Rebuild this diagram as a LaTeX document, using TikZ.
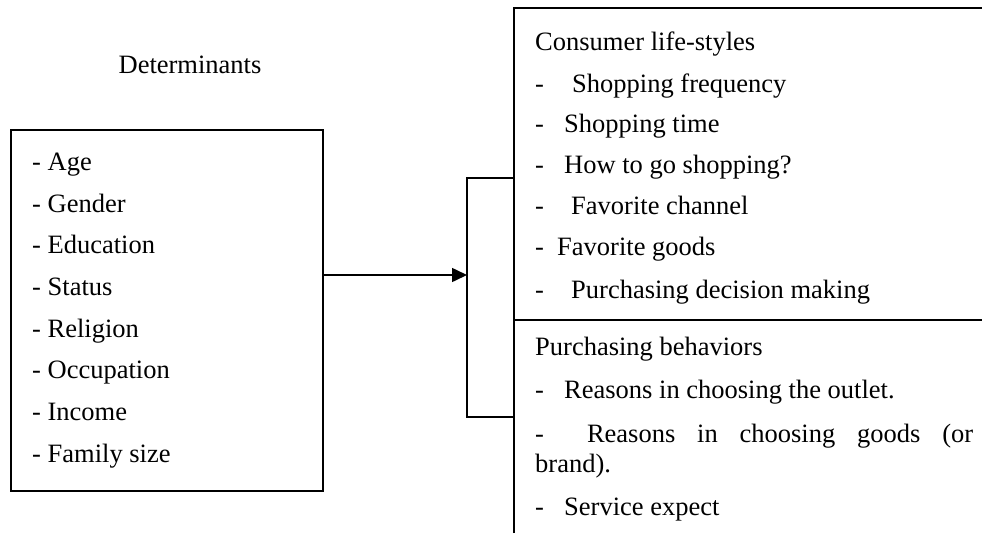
\documentclass[tikz,border=0pt]{standalone}
\usepackage{fontspec}
\setmainfont{Liberation Serif}
\usetikzlibrary{arrows.meta}
\begin{document}
\begin{tikzpicture}[x=1pt,y=-1pt,
  frame/.style={line width=1.6pt},
  txt/.style={inner sep=0pt, anchor=base west, font=\fontsize{26.5pt}{32pt}\selectfont},
  ttl/.style={inner sep=0pt, anchor=base, font=\fontsize{26.5pt}{32pt}\selectfont}]
\useasboundingbox (0,0) rectangle (982,533);
\newcommand{\dsh}[1]{\makebox[#1pt][l]{-}}

% heading over the left box
\node[ttl] (head) at (190,73) {Determinants};

% left box of determinants
\node[draw, frame, minimum width=312pt, minimum height=361pt, inner sep=0pt] (det) at (167,310.5) {};
\node[txt] (age)  at (32,170) {- Age};
\node[txt] (gen)  at (32,212) {- Gender};
\node[txt] (edu)  at (32,253) {- Education};
\node[txt] (sta)  at (32,295) {- Status};
\node[txt] (rel)  at (32,337) {- Religion};
\node[txt] (occ)  at (32,378) {- Occupation};
\node[txt] (inc)  at (32,420) {- Income};
\node[txt] (fam)  at (32,462) {- Family size};

% bracket joining the two groups on the right
\coordinate (btop) at (514,178);
\coordinate (bbot) at (514,417);
\coordinate (bin)  at (467,275);
\draw[frame] (btop) -- (btop -| bin) -- (bbot -| bin) -- (bbot);

% arrow from the determinants to the bracket
\draw[frame, -{Triangle[length=15pt,width=14pt]}] (det.east |- bin) -- (bin);

% right panel: open frame with a divider
\coordinate (rtl) at (514,8);
\coordinate (rtr) at (982,8);
\coordinate (rbl) at (514,533);
\coordinate (rdl) at (514,320);
\coordinate (rdr) at (982,320);
\draw[frame] (rbl) -- (rtl) -- (rtr);
\draw[frame] (rdl) -- (rdr);

% consumer life-styles
\node[txt] (cls)  at (535,50)  {Consumer life-styles};
\node[txt] (cl1)  at (535,92)  {\dsh{37}Shopping frequency};
\node[txt] (cl2)  at (535,132) {\dsh{29}Shopping time};
\node[txt] (cl3)  at (535,173) {\dsh{29}How to go shopping?};
\node[txt] (cl4)  at (535,214) {\dsh{36}Favorite channel};
\node[txt] (cl5)  at (535,255) {\dsh{22}Favorite goods};
\node[txt] (cl6)  at (535,298) {\dsh{36}Purchasing decision making};

% purchasing behaviors
\node[txt] (pb)   at (535,355) {Purchasing behaviors};
\node[txt] (pb1)  at (535,398) {\dsh{29}Reasons in choosing the outlet.};
\node[txt] (pb2)  at (535,442) {\makebox[438pt][s]{\dsh{30} Reasons in choosing goods (or}};
\node[txt] (pb2b) at (535,472) {brand).};
\node[txt] (pb3)  at (535,515) {\dsh{29}Service expect};
\end{tikzpicture}
\end{document}
